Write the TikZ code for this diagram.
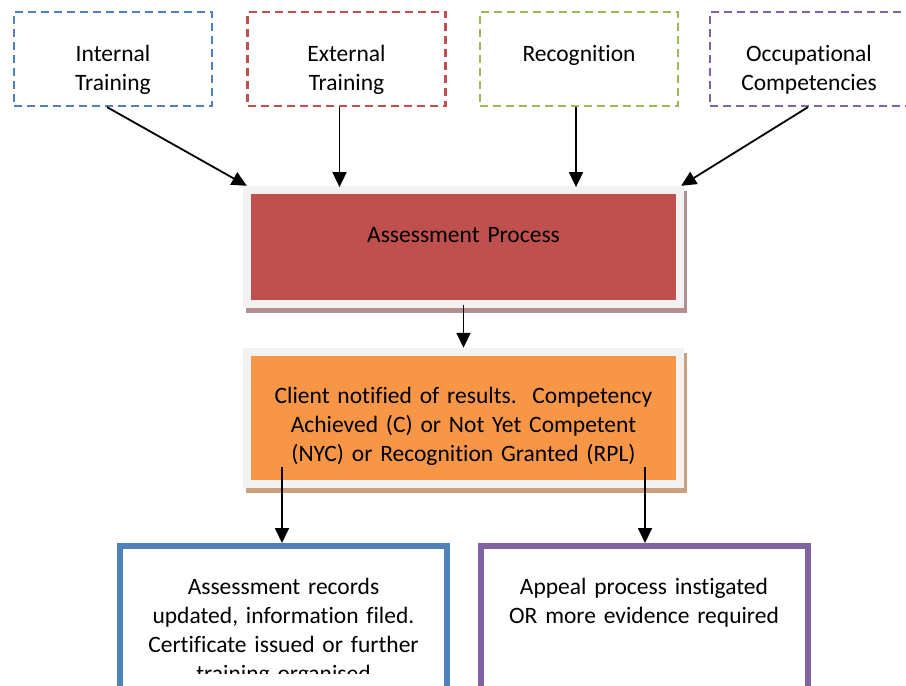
\documentclass[tikz,border=0pt]{standalone}
\usepackage{fontspec}
\setmainfont{Carlito}[Ligatures=NoCommon]
\usetikzlibrary{arrows.meta,shadows}

\definecolor{tblue}{HTML}{4F81BD}
\definecolor{tred}{HTML}{C0504D}
\definecolor{tgreen}{HTML}{9BBB59}
\definecolor{tpurple}{HTML}{8064A2}
\definecolor{torange}{HTML}{F79646}
\definecolor{framegray}{HTML}{F2F2F2}
\definecolor{redshade}{HTML}{B38F8F}
\definecolor{orangeshade}{HTML}{CBA07D}

\tikzset{
  srcbox/.style={draw=#1, line width=2.2pt, dash pattern=on 8pt off 5pt,
    minimum width=198pt, minimum height=94pt, inner sep=0pt},
  procbox/.style 2 args={fill=framegray, minimum width=441pt, inner sep=0pt,
    drop shadow={shadow xshift=3pt, shadow yshift=-5pt, fill=#2, opacity=1},
    path picture={\fill[#1] ([shift={(8pt,-8pt)}]path picture bounding box.north west)
      rectangle ([shift={(-8pt,8pt)}]path picture bounding box.south east);}},
  outbox/.style={draw=#1, line width=6pt, minimum width=327pt,
    minimum height=154pt, inner sep=0pt},
  lbl/.style={font=\fontsize{23.5pt}{29pt}\selectfont, text width=#1,
    align=center, anchor=base, inner sep=0pt},
  arr/.style={line width=1.8pt, -{Triangle[length=15pt,width=14pt]}}
}

\begin{document}
\begin{tikzpicture}[x=1pt,y=-1pt]
\useasboundingbox (0,0) rectangle (906,686);

\node[srcbox=tblue] (intr) at (113,59) {};
\node[srcbox=tred] (extr) at (346.5,59) {};
\node[srcbox=tgreen] (recog) at (579,59) {};
\node[srcbox=tpurple] (occup) at (809,59) {};
\node[lbl=190pt] (intrtxt) at ([yshift=-50.5pt]intr.north) {Internal\\Training};
\node[lbl=190pt] (extrtxt) at ([yshift=-50.5pt]extr.north) {External\\Training};
\node[lbl=190pt] (recogtxt) at ([yshift=-50.5pt]recog.north) {Recognition};
\node[lbl=190pt] (occuptxt) at ([yshift=-50.5pt]occup.north) {Occupational\\Competencies};

\node[procbox={tred}{redshade}, minimum height=122pt] (assess) at (463.5,247) {};
\node[lbl=420pt] (assesstxt) at ([yshift=-57pt]assess.north) {Assessment Process};

\node[procbox={torange}{orangeshade}, minimum height=140pt] (client) at (463.5,418) {};
\node[lbl=420pt] (clienttxt) at ([yshift=-56pt]client.north)
  {Client notified of results.\ \ Competency\\Achieved (C) or Not Yet Competent\\(NYC) or Recognition Granted (RPL)};

\node[outbox=tblue] (recs) at (283.5,623) {};
\node[outbox=tpurple] (appeal) at (644,623) {};
\begin{scope}
  \clip (0,0) rectangle (906,673);
  \node[lbl=310pt] (recstxt) at ([yshift=-51pt]recs.north)
    {Assessment records\\updated, information filed.\\Certificate issued or further\\training organised};
  \node[lbl=310pt] (appealtxt) at ([yshift=-51pt]appeal.north)
    {Appeal process instigated\\OR more evidence required};
\end{scope}

\draw[arr] ([xshift=-6pt]intr.south) -- ([xshift=4pt]assess.north west);
\draw[arr] ([xshift=-7pt]extr.south) -- +(0,80);
\draw[arr] ([xshift=-3pt]recog.south) -- +(0,80);
\draw[arr] ([xshift=-1pt]occup.south) -- ([xshift=-3pt]assess.north east);
\draw[arr] (assess.south) ++(0,-3) -- (client.north);
\draw[arr] (recs.north |- client.south) ++(-1.5,-21) -- ([xshift=-1.5pt]recs.north);
\draw[arr] (appeal.north |- client.south) ++(1,-21) -- ([xshift=1pt]appeal.north);
\end{tikzpicture}
\end{document}
